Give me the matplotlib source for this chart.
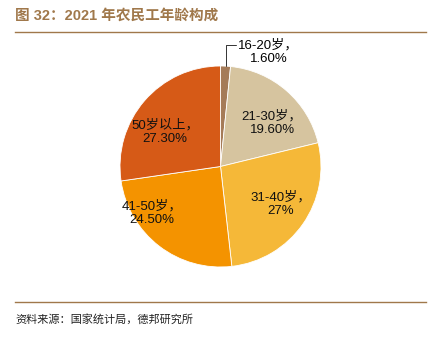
import matplotlib
matplotlib.use("Agg")
import matplotlib.pyplot as plt
import numpy as np

categories = ["16-20岁", "21-30岁", "31-40岁", "41-50岁", "50岁以上"]
values = [1.6, 19.6, 27.0, 24.5, 27.3]
value_labels = ["1.60%", "19.60%", "27%", "24.50%", "27.30%"]
colors = ["#A57B58", "#D6C49F", "#F5B838", "#F49300", "#D65A17"]

title = "图 32：2021 年农民工年龄构成"
source = "资料来源：国家统计局，德邦研究所"

FONT = ["Liberation Sans", "Noto Sans CJK SC", "DejaVu Sans"]
CJK = ["Noto Sans CJK SC", "DejaVu Sans"]

W, H = 438, 339
fig = plt.figure(figsize=(W / 100, H / 100), dpi=100)

# Title and rules
fig.text(15 / W, 1 - 16 / H, title, fontsize=10.5, fontweight="bold",
         color="#A0784B", family=FONT, va="center", ha="left")
fig.add_artist(plt.Line2D([15 / W, 426 / W], [1 - 32 / H, 1 - 32 / H],
                          color="#A0784B", lw=1.0))
fig.add_artist(plt.Line2D([15 / W, 426 / W], [1 - 302 / H, 1 - 302 / H],
                          color="#A0784B", lw=1.0))
fig.text(15 / W, 1 - 319 / H, source, fontsize=8, color="#222222",
         family=CJK, va="center", ha="left")

# Pie axes
cx, cy, r = 220.5, 166.5, 100.5
ax = fig.add_axes([(cx - r) / W, 1 - (cy + r) / H, 2 * r / W, 2 * r / H])
wedges, _ = ax.pie(values, colors=colors, startangle=90, counterclock=False,
                   wedgeprops=dict(edgecolor="white", linewidth=0.6))
ax.set_xlim(-1, 1)
ax.set_ylim(-1, 1)
ax.set_aspect("equal")

# label positions (radius fraction, angle deg) for inner labels
label_pos = {1: (0.67, 40), 2: (0.71, -32), 3: (0.82, -146), 4: (0.65, 148)}
for i, (cat, vl) in enumerate(zip(categories, value_labels)):
    txt = f"{cat}，\n{vl}"
    if i == 0:
        w = wedges[0]
        ang = np.deg2rad((w.theta1 + w.theta2) / 2)
        x0, y0 = np.cos(ang), np.sin(ang)
        ax.annotate(txt, xy=(x0, y0), xytext=(0.48, 1.14),
                    fontsize=9.5, family=FONT, ha="center", va="center",
                    multialignment="center",
                    linespacing=1.15, annotation_clip=False,
                    arrowprops=dict(arrowstyle="-", color="#333333", lw=0.7,
                                    connectionstyle="angle,angleA=0,angleB=90,rad=0",
                                    shrinkA=0, shrinkB=0, relpos=(0.0, 0.75)))
    else:
        rf, a = label_pos[i]
        a = np.deg2rad(a)
        ax.text(rf * np.cos(a), rf * np.sin(a), txt, fontsize=9.5, family=FONT,
                ha="center", va="center", multialignment="center",
                linespacing=1.15, color="#111111")

fig.savefig("out.png", dpi=100)
